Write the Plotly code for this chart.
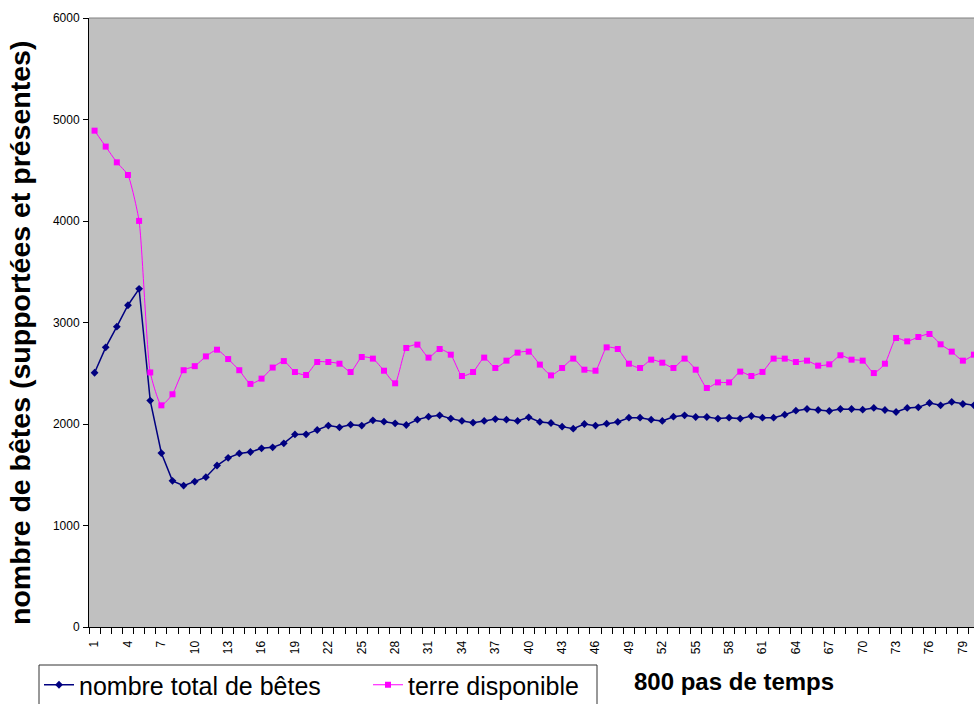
import plotly.graph_objects as go

categories = list(range(1, 81))

total_betes = [2505, 2755, 2959, 3170, 3332, 2231, 1714, 1440, 1393, 1433,
               1476, 1591, 1667, 1710, 1724, 1760, 1770, 1810, 1897, 1898,
               1941, 1984, 1967, 1993, 1984, 2036, 2023, 2007, 1990, 2043,
               2072, 2085, 2053, 2030, 2013, 2030, 2049, 2043, 2030, 2066,
               2020, 2010, 1974, 1954, 2000, 1984, 2003, 2020, 2062, 2062,
               2043, 2030, 2072, 2085, 2069, 2069, 2053, 2062, 2053, 2079,
               2062, 2062, 2092, 2131, 2148, 2138, 2128, 2148, 2148, 2141,
               2158, 2138, 2118, 2158, 2164, 2207, 2184, 2217, 2197, 2184]

terre_disponible = [4890, 4733, 4578, 4453, 4001, 2508, 2184, 2293, 2530, 2570,
                    2666, 2732, 2640, 2530, 2395, 2447, 2556, 2620, 2512, 2483,
                    2611, 2611, 2594, 2512, 2660, 2644, 2525, 2401, 2749, 2782,
                    2654, 2739, 2683, 2473, 2512, 2654, 2552, 2624, 2703, 2713,
                    2585, 2479, 2552, 2644, 2535, 2525, 2755, 2739, 2594, 2552,
                    2634, 2604, 2552, 2644, 2535, 2355, 2410, 2410, 2516, 2473,
                    2513, 2644, 2644, 2611, 2624, 2575, 2588, 2677, 2634, 2624,
                    2502, 2594, 2847, 2814, 2857, 2887, 2785, 2713, 2624, 2683]

x_tick_labels = [str(v) for v in range(1, 81, 3)]
y_tick_values = [0, 1000, 2000, 3000, 4000, 5000, 6000]

FONT = "Liberation Sans, Arial, sans-serif"

fig = go.Figure()
fig.add_trace(go.Scatter(
    x=categories, y=total_betes, name="nombre total de bêtes",
    mode="lines+markers",
    line=dict(color="#000080", width=1.5),
    marker=dict(symbol="diamond", size=6, color="#000080"),
))
fig.add_trace(go.Scatter(
    x=categories, y=terre_disponible, name="terre disponible",
    mode="lines+markers",
    line=dict(color="#FF00FF", width=1, shape="spline", smoothing=0.5),
    marker=dict(symbol="square", size=6, color="#FF00FF"),
))

L, R, T, B = 89, 0, 18, 77
W, H = 974, 704
pw = W - L - R
ph = H - T - B

def px_x(p):
    return (p - L) / pw

def px_y(p):
    return (H - B - p) / ph

fig.update_layout(
    width=W, height=H,
    margin=dict(l=L, r=R, t=T, b=B, pad=0, autoexpand=False),
    paper_bgcolor="white",
    plot_bgcolor="#C0C0C0",
    font=dict(family=FONT, color="black"),
    showlegend=True,
    legend=dict(
        orientation="h",
        x=px_x(39), xanchor="left",
        y=px_y(662), yanchor="top",
        font=dict(size=25, family=FONT, color="black"),
        bgcolor="rgba(0,0,0,0)",
        borderwidth=0,
        entrywidth=284, entrywidthmode="pixels",
    ),
    xaxis=dict(
        range=[0.5, 80.0],
        tickmode="array",
        tickvals=[int(v) for v in x_tick_labels],
        ticktext=x_tick_labels,
        tickangle=-90,
        ticks="",
        ticklabelstandoff=8,
        tickfont=dict(size=12, family=FONT, color="black"),
        showgrid=False, zeroline=False, automargin=False,
        showline=True, linecolor="black", linewidth=1,
        minor=dict(tickvals=[c - 0.5 for c in categories] + [80.5],
                   ticks="outside", ticklen=6, tickcolor="black", showgrid=False),
    ),
    yaxis=dict(
        range=[0, 6000],
        tickmode="array",
        tickvals=y_tick_values,
        ticks="outside", ticklen=5, tickcolor="black",
        ticklabelstandoff=1,
        tickfont=dict(size=12, family=FONT, color="black"),
        showgrid=False, zeroline=False, automargin=False,
        showline=True, linecolor="black", linewidth=1,
    ),
    shapes=[
        dict(type="line", xref="paper", yref="paper", x0=0, x1=1, y0=1, y1=1,
             line=dict(color="#808080", width=1)),
        dict(type="rect", xref="paper", yref="paper",
             x0=px_x(39), x1=px_x(597), y0=px_y(665), y1=px_y(720),
             line=dict(color="#333333", width=1), fillcolor="rgba(0,0,0,0)"),
    ],
    annotations=[
        dict(text="<b>nombre de bêtes (supportées et présentes)</b>",
             xref="paper", yref="paper", x=px_x(20), y=px_y(333),
             xanchor="center", yanchor="middle", textangle=-90, showarrow=False,
             font=dict(size=28.5, family=FONT, color="black")),
        dict(text="<b>800 pas de temps</b>",
             xref="paper", yref="paper", x=px_x(734), y=px_y(681),
             xanchor="center", yanchor="middle", showarrow=False,
             font=dict(size=24, family=FONT, color="black")),
    ],
)

fig.write_html("out.html",
               config={"displayModeBar": False},
               post_script="document.body.style.margin='0';document.body.style.overflow='hidden';")
